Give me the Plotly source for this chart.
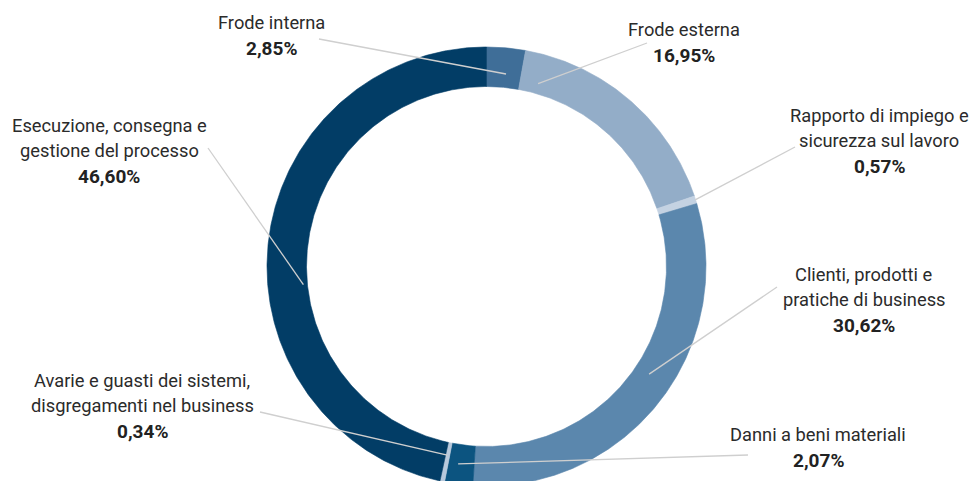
import numpy as np
import plotly.graph_objects as go

# Loss-event categories, clockwise from 12 o'clock
categories = [
    "Frode interna",
    "Frode esterna",
    "Rapporto di impiego e<br>sicurezza sul lavoro",
    "Clienti, prodotti e<br>pratiche di business",
    "Danni a beni materiali",
    "Avarie e guasti dei sistemi,<br>disgregamenti nel business",
    "Esecuzione, consegna e<br>gestione del processo",
]
shares = [2.85, 16.95, 0.57, 30.62, 2.07, 0.34, 46.60]
share_labels = ["2,85%", "16,95%", "0,57%", "30,62%", "2,07%", "0,34%", "46,60%"]
colors = ["#3f6e98", "#93adc8", "#c4d2e2", "#5b87ad", "#0c5480", "#b8c9dc", "#023d66"]

# Layout of the ring (pixel units on the axes)
W, H = 974, 481
CX, CY = 486.5, 266.5
R_OUT, R_IN = 219.5, 180.0

# Label block centre (x, y of first line) and where the leader line leaves the text
label_pos = [(271.5, 22.5), (684, 29.5), (879, 115), (864, 274.5), (818, 434.5), (142, 380.5), (109, 125.5)]
leader_text_end = [(319, 39), (647, 43), (795, 147), (777, 287), (748, 455), (260, 412), (208, 148)]
# where along each slice (fraction of its arc) and at which radius the leader touches the ring
leader_frac = [0.565, 0.09, 0.5, 0.455, 0.62, 0.6, 0.43]
leader_r = [193.5, 190, 219, 195, 199.5, 192.6, 184]

LINE_H = 25
FONT = "Roboto, Liberation Sans, sans-serif"
FS = 18.3


def pt(theta_deg, r):
    t = np.radians(theta_deg)
    return CX + r * np.sin(t), CY - r * np.cos(t)


fig = go.Figure()

total = sum(shares)
start = 0.0
bounds = []
for name, val, col in zip(categories, shares, colors):
    a0 = start / total * 360
    a1 = (start + val) / total * 360
    bounds.append((a0, a1))
    th = np.linspace(a0, a1, max(int((a1 - a0) * 2), 4))
    xo, yo = pt(th, R_OUT)
    xi, yi = pt(th[::-1], R_IN)
    xs = np.concatenate([xo, xi, xo[:1]])
    ys = np.concatenate([yo, yi, yo[:1]])
    fig.add_trace(go.Scatter(
        x=xs, y=ys, mode="lines", fill="toself", fillcolor=col,
        line=dict(color=col, width=0.6), hoverinfo="text",
        text=f"{name.replace('<br>', ' ')}: {val:.2f}%", showlegend=False,
    ))
    start += val

# Leader lines
for (a0, a1), f, r, (tx, ty) in zip(bounds, leader_frac, leader_r, leader_text_end):
    ax, ay = pt(a0 + f * (a1 - a0), r)
    fig.add_trace(go.Scatter(
        x=[tx, ax], y=[ty, ay], mode="lines",
        line=dict(color="#cfcfcf", width=1.3), hoverinfo="skip", showlegend=False,
    ))

# Labels: each text line as its own annotation for tight line spacing
annotations = []
for name, pct, (lx, ly) in zip(categories, share_labels, label_pos):
    lines = name.split("<br>")
    for i, ln in enumerate(lines):
        annotations.append(dict(
            x=lx, y=ly + i * LINE_H, xref="x", yref="y", text=ln, showarrow=False,
            xanchor="center", yanchor="middle",
            font=dict(family=FONT, size=FS, color="#2b2b2b"),
        ))
    annotations.append(dict(
        x=lx, y=ly + len(lines) * LINE_H + 1, xref="x", yref="y", text=f"<b>{pct}</b>",
        showarrow=False, xanchor="center", yanchor="middle",
        font=dict(family=FONT, size=FS + 0.7, color="#222222"),
    ))

fig.update_layout(
    width=W, height=H, margin=dict(l=0, r=0, t=0, b=0),
    paper_bgcolor="white", plot_bgcolor="white",
    xaxis=dict(range=[0, W], visible=False, fixedrange=True),
    yaxis=dict(range=[H, 0], visible=False, fixedrange=True),
    annotations=annotations, showlegend=False,
)

fig.write_html("out.html")
